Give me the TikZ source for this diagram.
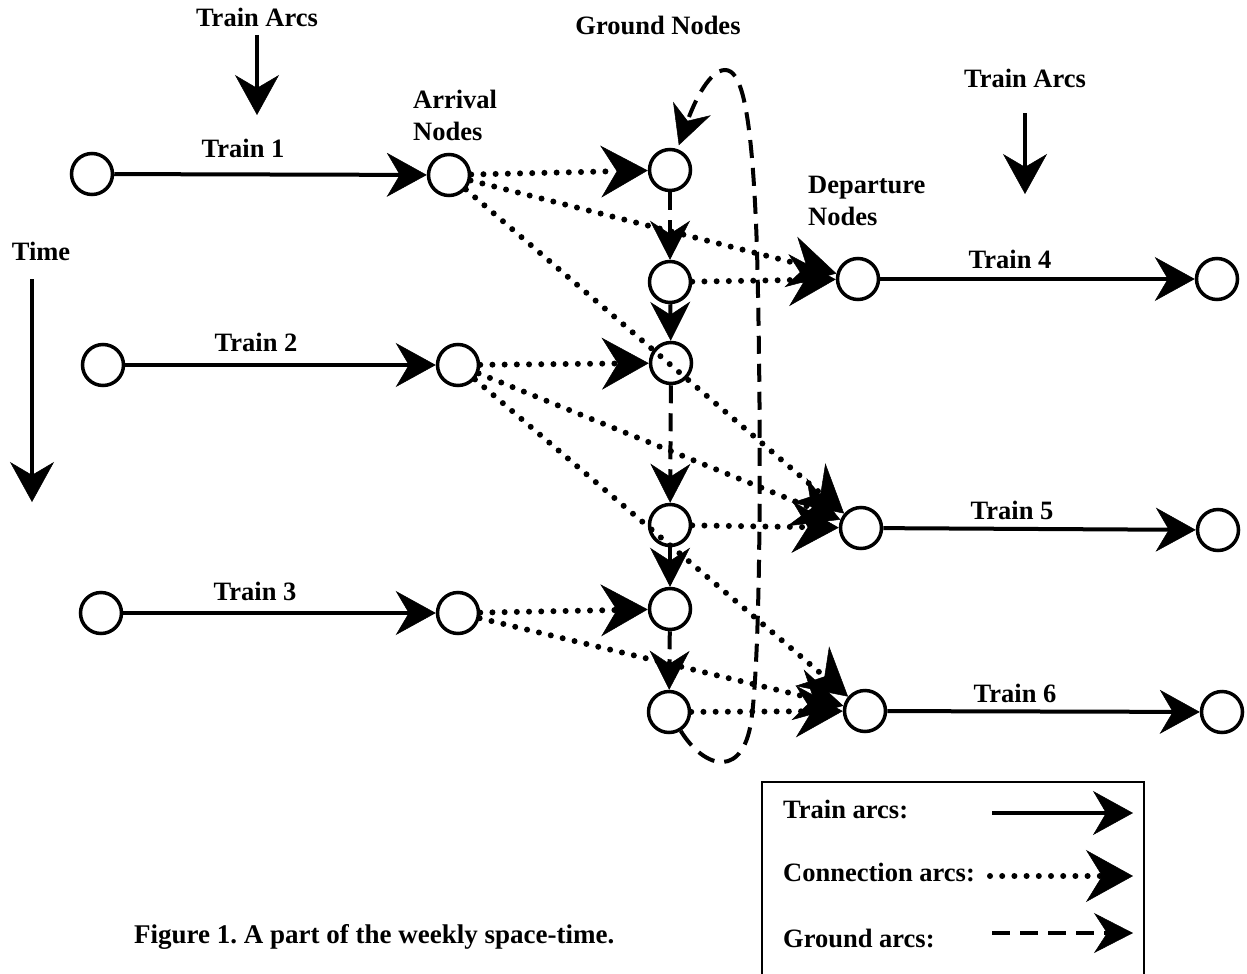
\documentclass[tikz,border=0pt]{standalone}
\usepackage{fontspec}
\setmainfont{Liberation Serif}
\usetikzlibrary{arrows.meta}
\tikzset{
  vtx/.style={circle, draw, line width=3.5pt, minimum size=41pt, inner sep=0pt},
  trainarc/.style={line width=4pt, -{Stealth[length=40pt,width=44pt,inset=13pt,line width=0.5pt]}},
  conarc/.style={line width=6pt, line cap=round, dash pattern=on 0pt off 12.2pt, -{Stealth[length=47pt,width=52pt,inset=16pt,line width=0.5pt]}},
  gndarc/.style={line width=4pt, dash pattern=on 18pt off 10pt, -{Stealth[length=39pt,width=40pt,inset=13pt,line width=0.5pt]}},
  lbl/.style={font=\fontsize{26.5}{32}\selectfont\bfseries, inner sep=0pt},
}
\begin{document}
\frenchspacing
\begin{tikzpicture}[x=1pt,y=-1pt]
\useasboundingbox (0,0) rectangle (1247,974);
\clip (0,0) rectangle (1247,974);

% nodes
\node[vtx] (s1) at (92,174) {};
\node[vtx] (s2) at (103,365) {};
\node[vtx] (s3) at (101,613) {};
\node[vtx] (a1) at (449,175) {};
\node[vtx] (a2) at (458,365) {};
\node[vtx] (a3) at (458,613) {};
\node[vtx] (g1) at (670,170) {};
\node[vtx] (g2) at (670,282) {};
\node[vtx] (g3) at (671,363) {};
\node[vtx] (g4) at (670,525) {};
\node[vtx] (g5) at (670,609) {};
\node[vtx] (g6) at (669,712) {};
\node[vtx] (d1) at (858,279) {};
\node[vtx] (d2) at (861,528) {};
\node[vtx] (d3) at (865,711) {};
\node[vtx] (t1) at (1217,279) {};
\node[vtx] (t2) at (1218,530) {};
\node[vtx] (t3) at (1222,712) {};

% train arcs
\draw[trainarc] (s1) -- (a1);
\draw[trainarc] (s2) -- (a2);
\draw[trainarc] (s3) -- (a3);
\draw[trainarc] (d1) -- (t1);
\draw[trainarc] (d2) -- (t2);
\draw[trainarc] (d3) -- (t3);

% connection arcs
\draw[conarc] (a1) -- (g1);
\draw[conarc] (a1) -- (d1);
\draw[conarc] (a1) -- (d2);
\draw[conarc] (g2) -- (d1);
\draw[conarc] (a2) -- (g3);
\draw[conarc] (a2) -- (d2);
\draw[conarc] (a2) -- (d3);
\draw[conarc] (g4) -- (d2);
\draw[conarc] (a3) -- (g5);
\draw[conarc] (a3) -- (d3);
\draw[conarc] (g6) -- (d3);

% ground arcs
\draw[gndarc] (g1) -- (g2);
\draw[gndarc] (g2) -- (g3);
\draw[gndarc] (g3) -- (g4);
\draw[gndarc] (g4) -- (g5);
\draw[gndarc] (g5) -- (g6);
\draw[gndarc, shorten >=4pt] (g6) .. controls (705,770) and (745,780) .. (752,715)
   .. controls (760,650) and (762,450) .. (757,250)
   .. controls (752,100) and (740,70) .. (725,70)
   .. controls (710,70) and (695,100) .. (g1);

% labels
\node[lbl, anchor=base] (lta) at (257,27) {Train Arcs};
\node[lbl, anchor=base] (lgn) at (658,35) {Ground Nodes};
\node[lbl, anchor=base] (ltb) at (1025,88) {Train Arcs};
\node[lbl, anchor=base west, align=left] (lan) at (413,140) {Arrival\\Nodes};
\node[lbl, anchor=base west, align=left] (ldn) at (808,225) {Departure\\Nodes};
\node[lbl, anchor=base] (lt1) at (243,157) {Train 1};
\node[lbl, anchor=base] (lt2) at (256,351) {Train 2};
\node[lbl, anchor=base] (lt3) at (255,600) {Train 3};
\node[lbl, anchor=base] (lt4) at (1010,268) {Train 4};
\node[lbl, anchor=base] (lt5) at (1012,519) {Train 5};
\node[lbl, anchor=base] (lt6) at (1015,702) {Train 6};
\node[lbl, anchor=base] (ltime) at (41,260) {Time};
\node[lbl, anchor=base west, font=\fontsize{27}{32}\selectfont\bfseries] (cap) at (134,943) {Figure 1. A part of the weekly space-time.};

% indicator arrows
\coordinate (ia1) at (257,35);
\coordinate (ia2) at (257,115);
\coordinate (ib1) at (1025,113);
\coordinate (ib2) at (1025,194);
\coordinate (ic1) at (32,279);
\coordinate (ic2) at (32,502);
\draw[trainarc] (ia1) -- (ia2);
\draw[trainarc] (ib1) -- (ib2);
\draw[trainarc] (ic1) -- (ic2);

% legend
\draw[line width=2pt] (762,782) rectangle (1144,1010);
\node[lbl, anchor=base west] (leg1) at (783,818) {Train arcs:};
\node[lbl, anchor=base west] (leg2) at (783,881) {Connection arcs:};
\node[lbl, anchor=base west] (leg3) at (783,947) {Ground arcs:};
\coordinate (la1) at (992,813);
\coordinate (la2) at (1133,813);
\coordinate (lb1) at (990,876);
\coordinate (lb2) at (1133,876);
\coordinate (lc1) at (992,933);
\coordinate (lc2) at (1133,933);
\draw[trainarc] (la1) -- (la2);
\draw[conarc] (lb1) -- (lb2);
\draw[gndarc] (lc1) -- (lc2);
\end{tikzpicture}
\end{document}
